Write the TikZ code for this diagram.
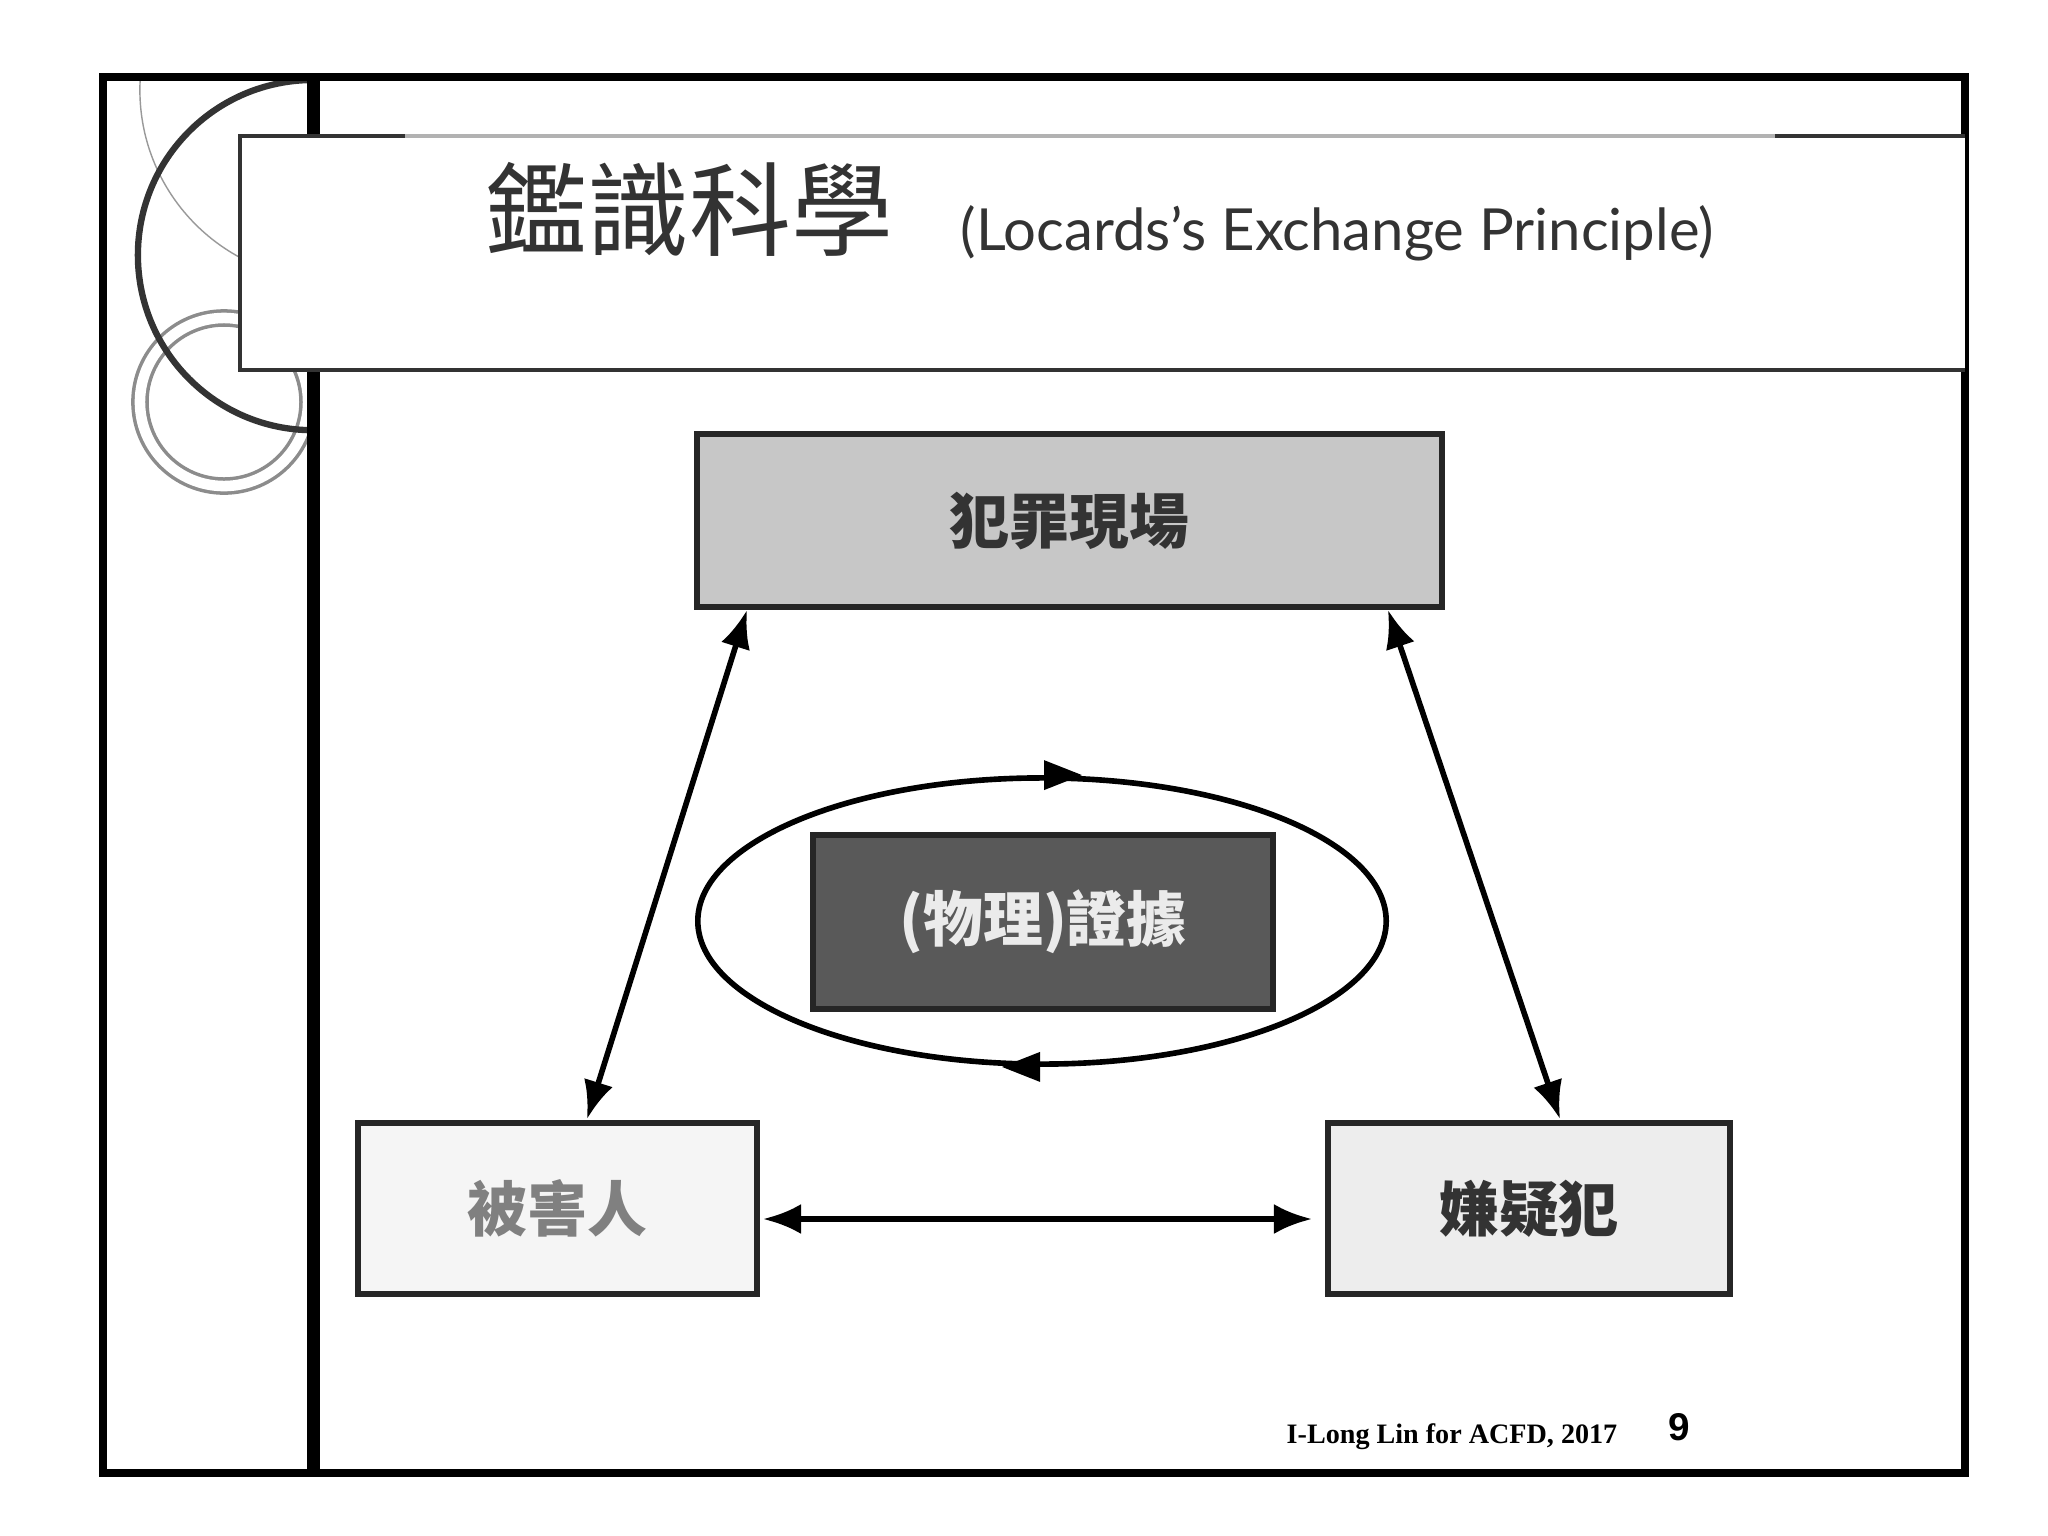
\documentclass[tikz,border=0pt]{standalone}
\usepackage{fontspec}
\setmainfont{Liberation Serif}
\newfontfamily\cjk{Noto Sans CJK TC}
\newfontfamily\lat{Lato}
\newfontfamily\sansf{Liberation Sans}
\usetikzlibrary{arrows.meta,shapes.geometric}
\begin{document}
\begin{tikzpicture}[x=0.01cm,y=-0.01cm,
  box/.style={draw=black!85,line width=1.6pt,minimum width=#1,inner sep=0pt},
  arr/.style={line width=1.6pt,{Latex[length=0.38cm,width=0.3cm]}-{Latex[length=0.38cm,width=0.3cm]}},
  lbl/.style={font=\cjk\fontsize{17pt}{20pt}\selectfont\bfseries}]
\useasboundingbox (0,0) rectangle (2048,1536);
\fill[white] (0,0) rectangle (2048,1536);
% decorative circles
\begin{scope}
\clip (103,77) rectangle (313,1473);
\draw[black!40,line width=0.4pt] (330,90) circle (1.9cm);
\end{scope}
\draw[black!45,line width=5pt] (224,402) circle (0.84cm);
\draw[white,line width=3pt] (224,402) circle (0.84cm);
\draw[black!80,line width=1.8pt] (313,80) arc (90:270:1.75cm);
% frame
\draw[black,line width=2.2pt] (103,77) rectangle (1965,1473);
\fill[black] (307,77) rectangle (320,1473);
% title box
\fill[white] (240,136) rectangle (1965,370);
\draw[black!80,line width=1pt] (1965,136) -- (240,136) -- (240,370) -- (1965,370);
\draw[black!30,line width=1pt] (405,136) -- (1775,136);
\node[anchor=base west,inner sep=0pt,text=black!80] (t1) at (485,248) {\cjk\fontsize{29pt}{32pt}\selectfont 鑑識科學};
\node[anchor=base west,inner sep=0pt,text=black!80] (t2) at (960,250) {\lat\fontsize{16.5pt}{19pt}\selectfont (Locards’s Exchange Principle)};
% boxes
\node[box=7.45cm,minimum height=1.73cm,fill=black!22,lbl,text=black!80] (scene) at (1069.5,520.5) {犯罪現場};
\node[box=4.6cm,minimum height=1.74cm,fill=black!65,lbl,text=black!8] (ev) at (1043,922) {(物理)證據};
\node[box=3.99cm,minimum height=1.71cm,fill=black!4,lbl,text=black!50] (vic) at (557.5,1208.5) {被害人};
\node[box=4.02cm,minimum height=1.71cm,fill=black!7,lbl,text=black!80] (sus) at (1529,1208.5) {嫌疑犯};
% ellipse
\node[draw,ellipse,line width=1.6pt,minimum width=6.88cm,minimum height=2.86cm,inner sep=0pt] (ell) at (1042,921) {};
\fill (ell.north) ++(40,0) -- ++(-38,-15) -- ++(0,30) -- cycle;
\fill (ell.south) ++(-40,0) -- ++(38,-15) -- ++(0,30) -- cycle;
% arrows
\coordinate (a1) at (747,610); \coordinate (a2) at (587,1119);
\coordinate (b1) at (1388,610); \coordinate (b2) at (1560,1119);
\draw[arr] (a1) -- (a2);
\draw[arr] (b1) -- (b2);
\coordinate (h1) at (763,1219); \coordinate (h2) at (1312,1219);
\draw[arr] (h1) -- (h2);
% footer
\node[anchor=base west,inner sep=0pt] (f1) at (1286,1443) {\fontsize{8pt}{9pt}\selectfont\bfseries I-Long Lin for ACFD, 2017};
\node[anchor=base,inner sep=0pt] (f2) at (1679,1440) {\sansf\fontsize{11pt}{12pt}\selectfont\bfseries 9};
\end{tikzpicture}
\end{document}
